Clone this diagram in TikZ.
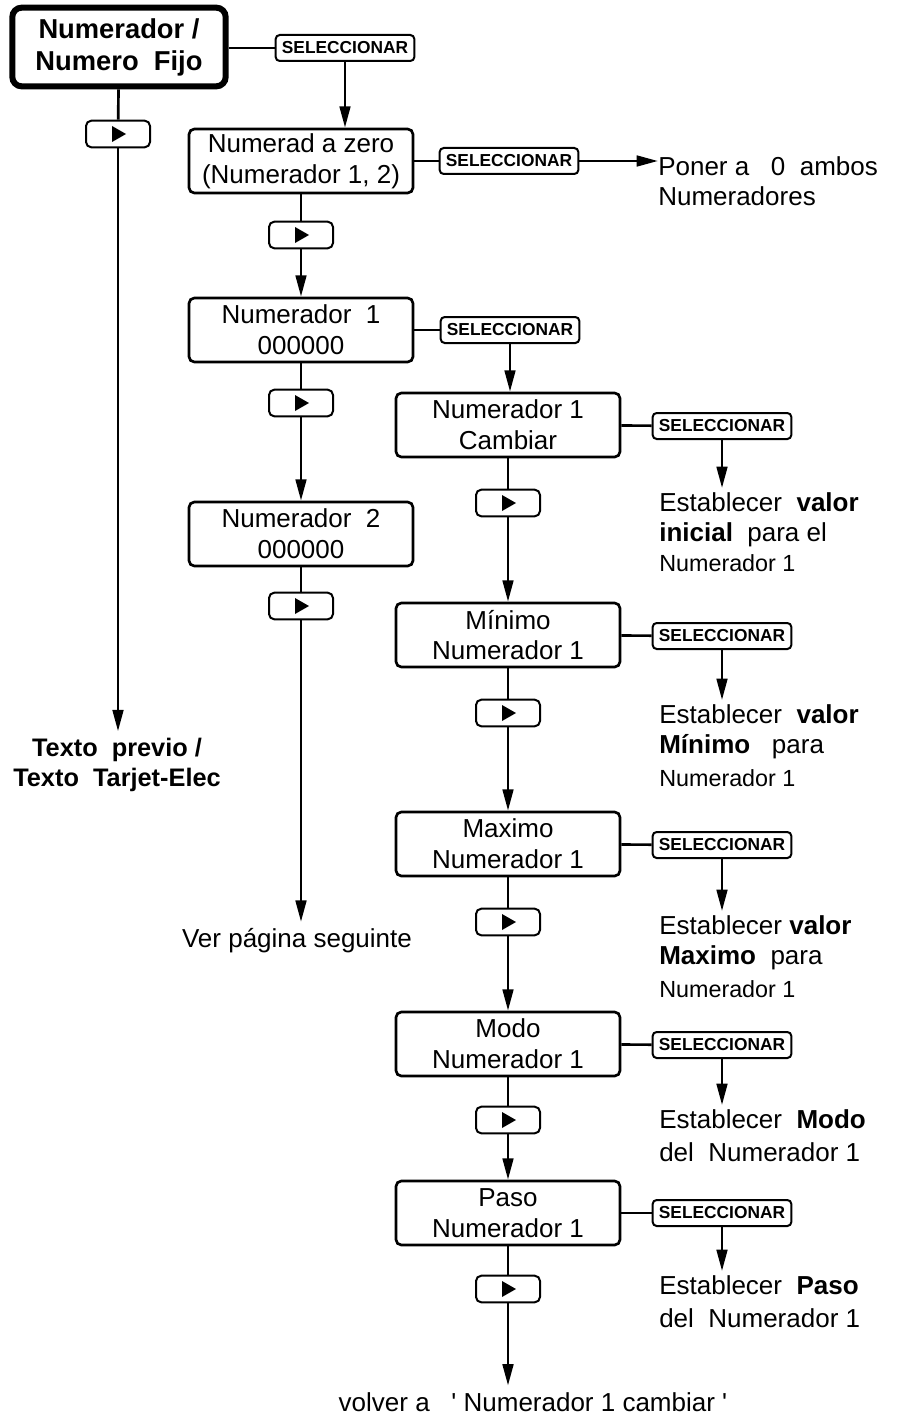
\documentclass[tikz,border=0pt]{standalone}
\usepackage{fontspec}
\setmainfont{Liberation Sans}
\usetikzlibrary{positioning, arrows.meta}
\newcommand{\lastline}{\fontsize{17.5}{20}\selectfont}

\begin{document}
\begin{tikzpicture}[x=0.75pt,y=-0.75pt,
  menu/.style={draw, rounded corners=4pt, line width=2pt, minimum width=168pt, minimum height=48pt,
               align=center, font=\fontsize{19.5}{23}\selectfont, inner sep=1pt},
  topmenu/.style={menu, line width=4.5pt, rounded corners=7pt, minimum width=160pt, minimum height=59pt,
               font=\fontsize{20.5}{24}\selectfont\bfseries},
  sel/.style={draw, rounded corners=3pt, line width=1.5pt, minimum width=104pt, minimum height=19.5pt,
              font=\fontsize{13}{14}\selectfont\bfseries, inner sep=1pt},
  key/.style={draw, rounded corners=4pt, line width=1.5pt, minimum width=48pt, minimum height=20pt,
              path picture={\fill[sharp corners] ([xshift=-4.5pt,yshift=-6pt]path picture bounding box.center)
                -- ++(0,12pt) -- ++(10.5pt,-6pt) -- cycle;}},
  note/.style={anchor=north west, align=left, font=\fontsize{19.5}{22.5}\selectfont, inner xsep=0pt, inner ysep=3.5pt},
  outtext/.style={align=center, font=\fontsize{19.5}{22.5}\selectfont, inner xsep=0pt, inner ysep=5pt},
  link/.style={line width=2pt},
  arr/.style={-{Triangle[length=16pt, width=8pt]}, line width=2pt}]

  \useasboundingbox (0,0) rectangle (897,1416);

  %% Left column
  \node[topmenu] (top) at (119,47) {Numerador /\\Numero~~Fijo};
  \node[key] (k0) at (118,134) {};
  \node[outtext, font=\fontsize{19}{22.5}\selectfont\bfseries] (prev) at (117,765) {Texto~~previo /\\Texto~~Tarjet-Elec};

  %% Middle column
  \node[sel] (s0) at (345,48) {SELECCIONAR};
  \node[menu] (zero) at (301,161) {Numerad a zero\\(Numerador 1, 2)};
  \node[sel] (s1) at (509,161) {SELECCIONAR};
  \node[note, anchor=west, inner ysep=0pt] (poner) at (658,181) {Poner a~~~0~~ambos\\Numeradores};
  \node[key] (k1) at (301,235) {};
  \node[menu] (num1) at (301,330) {Numerador~~1\\000000};
  \node[sel] (s2) at (510,330) {SELECCIONAR};
  \node[key] (k2) at (301,403) {};
  \node[menu] (num2) at (301,534) {Numerador~~2\\000000};
  \node[key] (k3) at (301,606) {};
  \node[outtext] (ver) at (297,941) {Ver página seguinte};

  %% Right column
  \node[menu] (cam) at (508,425) {Numerador 1\\Cambiar};
  \node[sel] (s3) at (722,426) {SELECCIONAR};
  \node[note] (t3) at (659,488) {Establecer~~\textbf{valor}\\\textbf{inicial}~~para el\\{\lastline Numerador 1}};
  \node[key] (k4) at (508,503) {};

  \node[menu] (min) at (508,635) {Mínimo\\Numerador 1};
  \node[sel] (s4) at (722,636) {SELECCIONAR};
  \node[note] (t4) at (659,700) {Establecer~~\textbf{valor}\\\textbf{Mínimo}~~~para\\[2pt]{\lastline Numerador 1}};
  \node[key] (k5) at (508,713) {};

  \node[menu] (max) at (508,844) {Maximo\\Numerador 1};
  \node[sel] (s5) at (722,845) {SELECCIONAR};
  \node[note] (t5) at (659,911) {Establecer \textbf{valor}\\\textbf{Maximo}~~para\\[2pt]{\lastline Numerador 1}};
  \node[key] (k6) at (508,922) {};

  \node[menu] (modo) at (508,1044) {Modo\\Numerador 1};
  \node[sel] (s6) at (722,1045) {SELECCIONAR};
  \node[note] (t6) at (659,1105) {Establecer~~\textbf{Modo}\\[2pt]del~~Numerador 1};
  \node[key] (k7) at (508,1120) {};

  \node[menu] (paso) at (508,1213) {Paso\\Numerador 1};
  \node[sel] (s7) at (722,1213) {SELECCIONAR};
  \node[note] (t7) at (659,1271) {Establecer~~\textbf{Paso}\\[2pt]del~~Numerador 1};
  \node[key] (k8) at (508,1289) {};
  \node[outtext] (volver) at (533,1402) {volver a~~~\textquotesingle\ Numerador 1 cambiar \textquotesingle};

  %% Connectors
  \draw[link] (top) -- (k0);
  \draw[arr] (k0) -- (k0 |- prev.north);
  \draw[link] (top.east |- s0) -- (s0);
  \draw[arr] (s0) -- (s0 |- zero.north);
  \draw[link] (zero) -- (s1);
  \draw[arr] (s1) -- (poner.west |- s1);
  \draw[link] (zero) -- (k1);
  \draw[arr] (k1) -- (num1);
  \draw[link] (num1) -- (s2);
  \draw[arr] (s2) -- (s2 |- cam.north);
  \draw[link] (num1) -- (k2);
  \draw[arr] (k2) -- (num2);
  \draw[link] (num2) -- (k3);
  \draw[arr] (k3) -- (k3 |- ver.north);

  \draw[link] (cam) -- (k4);
  \draw[arr] (k4) -- (min);
  \draw[link] (min) -- (k5);
  \draw[arr] (k5) -- (max);
  \draw[link] (max) -- (k6);
  \draw[arr] (k6) -- (modo);
  \draw[link] (modo) -- (k7);
  \draw[arr] (k7) -- (paso);
  \draw[link] (paso) -- (k8);
  \draw[arr] (k8) -- (k8 |- volver.north);

  \foreach \b/\s/\t in {cam/s3/t3, min/s4/t4, max/s5/t5, modo/s6/t6, paso/s7/t7} {
    \draw[link] (\b) -- (\s);
    \draw[arr] (\s) -- (\s |- \t.north);
  }
\end{tikzpicture}
\end{document}
